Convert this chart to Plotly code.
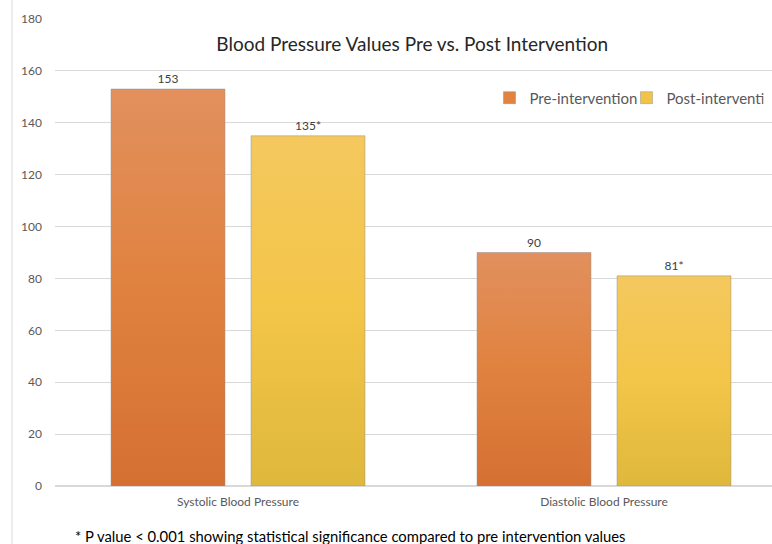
import json
import plotly.graph_objects as go

categories = ["Systolic Blood Pressure", "Diastolic Blood Pressure"]
pre_values = [153, 90]
post_values = [135, 81]
pre_labels = ["153", "90"]
post_labels = ["135*", "81*"]
y_ticks = [0, 20, 40, 60, 80, 100, 120, 140, 160, 180]

FONT = "Lato, 'Open Sans', sans-serif"
PRE_COLOR = "#E0843F"
POST_COLOR = "#F2C34A"
PRE_GRADIENT = [["0", "#E2905E"], ["0.5", "#E0823F"], ["1", "#D57033"]]
POST_GRADIENT = [["0", "#F4C85E"], ["0.5", "#F3C548"], ["1", "#DEB83C"]]

fig = go.Figure()
fig.add_trace(go.Bar(
    name="Pre-intervention", x=categories, y=pre_values,
    text=pre_labels, textposition="outside",
    textfont=dict(size=12, color="#404040", family=FONT),
    marker=dict(color=PRE_COLOR, line=dict(color="rgba(140,140,140,0.45)", width=1)),
    cliponaxis=False,
))
fig.add_trace(go.Bar(
    name="Post-intervention", x=categories, y=post_values,
    text=post_labels, textposition="outside",
    textfont=dict(size=12, color="#404040", family=FONT),
    marker=dict(color=POST_COLOR, line=dict(color="rgba(140,140,140,0.45)", width=1)),
    cliponaxis=False,
))

fig.update_layout(
    width=772, height=544,
    margin=dict(l=55, r=0, t=19, b=58, autoexpand=False),
    paper_bgcolor="white", plot_bgcolor="white",
    barmode="group", bargap=0.235, bargroupgap=0.186,
    font=dict(family=FONT, color="#595959"),
    title=dict(text="Blood Pressure Values Pre vs. Post Intervention",
               x=0.534, xanchor="center", y=0.919, yanchor="middle",
               font=dict(size=19, color="#262626", family=FONT)),
    legend=dict(orientation="h", x=0.606, xanchor="left", y=0.831, yanchor="middle",
                font=dict(size=15, color="#595959", family=FONT),
                bgcolor="rgba(0,0,0,0)", itemwidth=30, entrywidth=92),
    showlegend=True,
    xaxis=dict(range=[-0.5, 1.459], showgrid=False, zeroline=False, showline=False,
               ticks="", ticklabelstandoff=7,
               tickfont=dict(size=12, color="#595959", family=FONT)),
    yaxis=dict(range=[0, 180], tickvals=y_ticks, showgrid=True, gridcolor="#D9D9D9",
               gridwidth=1, zeroline=True, zerolinecolor="#D9D9D9", showline=False,
               ticks="", ticklabelstandoff=12,
               tickfont=dict(size=12, color="#595959", family=FONT)),
)

fig.add_shape(type="line", xref="paper", yref="paper", x0=-0.06, x1=-0.06, y0=-0.2, y1=1.05,
              line=dict(color="#D9D9D9", width=1))

fig.add_annotation(text="* P value < 0.001 showing statistical significance compared to pre intervention values",
                   xref="paper", yref="paper", x=0.411, y=-0.107, xanchor="center", yanchor="middle",
                   showarrow=False, xshift=1, font=dict(size=14.8, color="#000000", family=FONT))

post_script = """
document.body.style.margin='0';document.body.style.overflow='hidden';
try {
  var gd = document.getElementById('{plot_id}');
  var svg = gd.querySelector('.main-svg');
  var defs = svg.querySelector('defs');
  var ns = 'http://www.w3.org/2000/svg';
  function mk(id, stops) {
    var g = document.createElementNS(ns, 'linearGradient');
    g.setAttribute('id', id);
    g.setAttribute('x1', '0'); g.setAttribute('y1', '0');
    g.setAttribute('x2', '0'); g.setAttribute('y2', '1');
    stops.forEach(function (s) {
      var st = document.createElementNS(ns, 'stop');
      st.setAttribute('offset', s[0]);
      st.setAttribute('stop-color', s[1]);
      g.appendChild(st);
    });
    defs.appendChild(g);
  }
  mk('gradPre', PRE_STOPS);
  mk('gradPost', POST_STOPS);
  var traces = gd.querySelectorAll('.barlayer .trace');
  var ids = ['gradPre', 'gradPost'];
  traces.forEach(function (t, i) {
    t.querySelectorAll('.point path').forEach(function (p) {
      p.style.fill = 'url(#' + ids[i] + ')';
    });
  });
} catch (e) {}
""".replace("PRE_STOPS", json.dumps(PRE_GRADIENT)).replace("POST_STOPS", json.dumps(POST_GRADIENT))

fig.write_html("out.html", config={"displayModeBar": False}, post_script=post_script)
